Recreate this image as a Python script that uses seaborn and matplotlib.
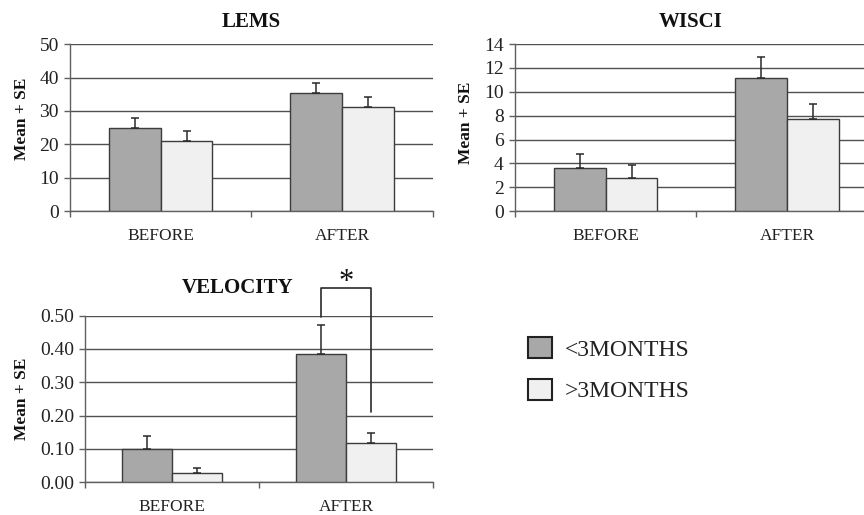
import numpy as np
import pandas as pd
import matplotlib
matplotlib.use("Agg")
import matplotlib.pyplot as plt
import seaborn as sns

periods = ["BEFORE", "AFTER"]
groups = ["<3MONTHS", ">3MONTHS"]

lems_lt = [25.0, 35.5]
lems_gt = [21.0, 31.3]
lems_se_lt = [2.9, 2.8]
lems_se_gt = [3.0, 2.8]

wisci_lt = [3.6, 11.15]
wisci_gt = [2.75, 7.7]
wisci_se_lt = [1.15, 1.8]
wisci_se_gt = [1.15, 1.25]

vel_lt = [0.100, 0.384]
vel_gt = [0.026, 0.116]
vel_se_lt = [0.038, 0.088]
vel_se_gt = [0.015, 0.030]

sns.set_theme(style="white")
plt.rcParams["font.family"] = ["Liberation Serif", "DejaVu Serif"]

DARK = "#a8a8a8"
LIGHT = "#f0f0f0"
EDGE = "#3c3c3c"
GRID = "#505050"

fig = plt.figure(figsize=(8.64, 5.15), dpi=100)


def panel(rect, title, lt, gt, se_lt, se_gt, ymax, ystep, fmt, title_x, title_y,
          ylab_x, ylab_y):
    ax = fig.add_axes(rect)
    df = pd.DataFrame({
        "period": periods * 2,
        "group": [groups[0]] * 2 + [groups[1]] * 2,
        "value": list(lt) + list(gt),
    })
    sns.barplot(data=df, x="period", y="value", hue="group", order=periods,
                hue_order=groups, palette=[DARK, LIGHT], width=0.57, gap=0,
                edgecolor=EDGE, linewidth=1.0, errorbar=None, legend=False,
                ax=ax, zorder=3)
    centers = []
    for cont, se in zip(ax.containers, [se_lt, se_gt]):
        xs = [p.get_x() + p.get_width() / 2 for p in cont.patches]
        hs = [p.get_height() for p in cont.patches]
        ax.errorbar(xs, hs, yerr=[np.zeros(len(se)), se], fmt="none",
                    ecolor="#2a2a2a", elinewidth=1.1, capsize=3,
                    capthick=1.1, zorder=4)
        centers.append(xs)
    ax.set_xlim(-0.5, 1.5)
    ax.set_ylim(0, ymax)
    ticks = np.arange(0, ymax + ystep / 2, ystep)
    ax.set_yticks(ticks)
    ax.set_yticklabels([fmt.format(t) for t in ticks])
    ax.yaxis.grid(True, color=GRID, linewidth=1.0, zorder=0)
    ax.set_axisbelow(True)
    for s in ["top", "right"]:
        ax.spines[s].set_visible(False)
    for s in ["left", "bottom"]:
        ax.spines[s].set_color("#606060")
        ax.spines[s].set_linewidth(1.0)
    ax.set_xlabel("")
    ax.set_ylabel("Mean + SE", fontsize=12.5, fontweight="bold", color="#111111")
    ax.yaxis.set_label_coords(ylab_x, ylab_y)
    ax.tick_params(axis="y", length=4, width=1, color="#606060", direction="out",
                   pad=4, labelsize=14, labelcolor="#222222", left=True)
    ax.tick_params(axis="x", length=0, pad=12, labelsize=12.5, labelcolor="#222222")
    ax.set_xticks([-0.5, 0.5, 1.5], minor=True)
    ax.tick_params(axis="x", which="minor", length=4, width=1, color="#606060",
                   bottom=True)
    ax.text(title_x, title_y, title, transform=ax.transAxes, ha="center",
            va="bottom", fontsize=15, fontweight="bold", color="#111111")
    return ax, centers


ax1, _ = panel([0.081, 0.590, 0.420, 0.3243], "LEMS", lems_lt, lems_gt,
               lems_se_lt, lems_se_gt, 50, 10, "{:.0f}", 0.4986, 1.075,
               -0.110, 0.55)
ax2, _ = panel([0.596, 0.590, 0.420, 0.3243], "WISCI", wisci_lt, wisci_gt,
               wisci_se_lt, wisci_se_gt, 14, 2, "{:.0f}", 0.483, 1.075,
               -0.113, 0.53)
ax3, c3 = panel([0.0984, 0.064, 0.4028, 0.323], "VELOCITY", vel_lt, vel_gt,
                vel_se_lt, vel_se_gt, 0.5, 0.1, "{:.2f}", 0.437, 1.105,
                -0.158, 0.50)

# significance bracket between AFTER groups
xl, xr = c3[0][1], c3[1][1]
ax3.plot([xl, xl, xr, xr], [0.497, 0.583, 0.583, 0.211], color="#2a2a2a",
         linewidth=1.2, clip_on=False, zorder=5)
ax3.text((xl + xr) / 2, 0.555, "*", ha="center", va="bottom", fontsize=22,
         color="#111111", clip_on=False)

handles = [plt.Rectangle((0, 0), 1, 1, facecolor=c, edgecolor="#222222",
                         linewidth=1.5) for c in (DARK, LIGHT)]
fig.legend(handles, groups, loc="upper left", bbox_to_anchor=(0.611, 0.345),
           frameon=False, fontsize=17, handlelength=1.0, handleheight=1.0,
           handletextpad=0.55, labelspacing=0.75, borderpad=0, borderaxespad=0,
           labelcolor="#222222")

fig.savefig("out.png", dpi=100)
